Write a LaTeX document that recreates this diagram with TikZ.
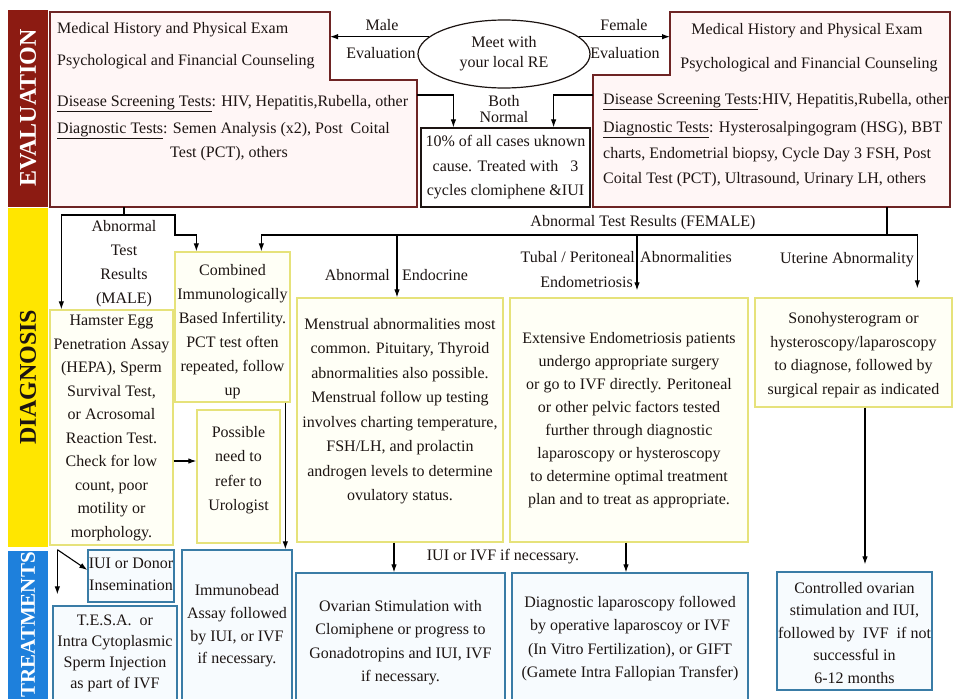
\documentclass[tikz,border=0pt]{standalone}
\usepackage{fontspec}
\setmainfont{Liberation Serif}
\usetikzlibrary{arrows.meta,shapes.geometric}

\definecolor{evalred}{HTML}{8C1B12}
\definecolor{diagyellow}{HTML}{FFE600}
\definecolor{treatblue}{HTML}{1E80DC}
\definecolor{evalline}{HTML}{6E2424}
\definecolor{evalfill}{HTML}{FFF6F6}
\definecolor{diagline}{HTML}{E6E27A}
\definecolor{diagfill}{HTML}{FFFFF6}
\definecolor{treatline}{HTML}{3A7CA6}
\definecolor{treatfill}{HTML}{F7FBFE}
\definecolor{ink}{HTML}{1C1412}

\tikzset{
  lsp/.style={font=\fontsize{16}{#1}\selectfont},
  body/.style={lsp=24, text=ink, align=center, inner sep=0pt},
  evalshape/.style={draw=evalline, fill=evalfill, line width=1.2pt},
  dbox/.style={draw=diagline, fill=diagfill, line width=1.3pt, inner sep=0pt},
  tbox/.style={draw=treatline, fill=treatfill, line width=1.3pt, inner sep=0pt},
  arr/.style={-{Latex[length=8pt,width=5.5pt]}, line width=1.1pt, draw=black},
  wire/.style={line width=1.1pt, draw=black},
  bandlabel/.style={rotate=90, font=\fontsize{24}{24}\selectfont\bfseries, inner sep=0pt}
}

\begin{document}
\begin{tikzpicture}[x=1pt,y=-1pt]
\useasboundingbox (0,0) rectangle (954,699);
\fill[white] (0,0) rectangle (954,699);

% ---------- side bands ----------
\fill[evalred] (8,10) rectangle (48,207);
\fill[diagyellow] (8,208) rectangle (48,547);
\fill[treatblue] (8,551) rectangle (48,699);
\node[bandlabel, text=white] (labEval) at (28,108) {EVALUATION};
\node[bandlabel, text=ink] (labDiag) at (28,377) {DIAGNOSIS};
\node[bandlabel, font=\fontsize{21}{21}\selectfont\bfseries, text=white] (labTreat) at (28,625) {TREATMENTS};

% ---------- evaluation ----------
\draw[evalshape] (50,12) -- (330,12) -- (330,80) -- (417,80) -- (417,207) -- (50,207) -- cycle;
\draw[evalshape] (670,12) -- (950,12) -- (950,207) -- (593,207) -- (593,75) -- (670,75) -- cycle;
\coordinate (mevalE) at (330,37);
\coordinate (mevalE2) at (417,95);
\coordinate (mevalS) at (124,207);
\coordinate (fevalW) at (670,37);
\coordinate (fevalW2) at (593,95);
\coordinate (fevalS) at (887,207);

\node[body, anchor=base west] (m1) at (57,33) {Medical History and Physical Exam};
\node[body, anchor=base west] (m2) at (57,65) {Psychological and Financial Counseling};
\node[body, anchor=base west] (m3) at (57,106) {\underline{Disease Screening Tests}: HIV, Hepatitis,Rubella, other};
\node[body, anchor=base west] (m4) at (57,133) {\underline{Diagnostic Tests}: Semen Analysis (x2), Post\ \ Coital};
\node[body, anchor=base] (m5) at (229,157) {Test (PCT), others};

\node[body, anchor=base] (f1) at (807,34) {Medical History and Physical Exam};
\node[body, anchor=base] (f2) at (809,68) {Psychological and Financial Counseling};
\node[body, anchor=base west] (f3) at (603,104) {\underline{Disease Screening Tests}:HIV, Hepatitis,Rubella, other};
\node[body, anchor=base west] (f4) at (603,132) {\underline{Diagnostic Tests}: Hysterosalpingogram (HSG), BBT};
\node[body, anchor=base west] (f5) at (603,158) {charts, Endometrial biopsy, Cycle Day 3 FSH, Post};
\node[body, anchor=base west] (f6) at (603,183) {Coital Test (PCT), Ultrasound, Urinary LH, others};

\node[ellipse, draw=ink, fill=white, line width=1.2pt, minimum width=172pt, minimum height=68pt,
      body, lsp=20] (re) at (504,54) {Meet with\\your local RE};

\node[body] (maleA) at (382,25) {Male};
\node[body] (maleB) at (381,53) {Evaluation};
\node[body] (femA) at (624,25) {Female};
\node[body] (femB) at (625,53) {Evaluation};
\draw[arr] (re.167) -- (re.167 -| mevalE);
\draw[arr] (re.13) -- (re.13 -| fevalW);

\node[draw=ink, fill=white, line width=1.2pt, minimum width=169pt, minimum height=79pt,
      body, lsp=24.5] (normal) at (505.5,167.5)
      {10\% of all cases uknown\\ cause. Treated with\ \ \ 3\\cycles clomiphene \&IUI};
\node[body, lsp=16] (bothlab) at (504,109) {Both\\Normal};
\draw[arr] (mevalE2) -| ([xshift=33pt]normal.north west);
\draw[arr] (fevalW2) -| ([xshift=-37pt]normal.north east);

% ---------- diagnosis ----------
\node[dbox, minimum width=123pt, minimum height=235pt] (hamster) at (111.5,427.5) {};
\node[body, lsp=23.5] (hamsterT) at (111.5,428) {Hamster Egg\\Penetration Assay\\(HEPA), Sperm\\Survival Test,\\or Acrosomal\\Reaction Test.\\Check for low\\count, poor\\motility or\\morphology.};

\node[dbox, minimum width=115pt, minimum height=150pt] (combined) at (232.5,327) {};
\node[body, lsp=24] (combinedT) at (232.5,332) {Combined\\Immunologically\\Based Infertility.\\PCT test often\\repeated, follow\\up};

\node[dbox, minimum width=83pt, minimum height=133pt] (possible) at (238.5,476.5) {};
\node[body, lsp=24.5] (possibleT) at (238.5,470) {Possible\\need to\\refer to\\Urologist};

\node[dbox, minimum width=206pt, minimum height=244pt] (endo) at (400,420) {};
\node[body, lsp=24.5] (endoT) at (400,411) {Menstrual abnormalities most\\common. Pituitary, Thyroid\\abnormalities also possible.\\Menstrual follow up testing\\involves charting temperature,\\FSH/LH, and prolactin\\androgen levels to determine\\ovulatory status.};

\node[dbox, minimum width=238pt, minimum height=244pt] (endom) at (629,420) {};
\node[body, lsp=23] (endomT) at (629,420) {Extensive Endometriosis patients\\undergo appropriate surgery\\or go to IVF directly. Peritoneal\\or other pelvic factors tested\\further through diagnostic\\laparoscopy or hysteroscopy\\to determine optimal treatment\\plan and to treat as appropriate.};

\node[dbox, minimum width=197pt, minimum height=109pt] (uterine) at (853.5,352.5) {};
\node[body, lsp=23.5] (uterineT) at (853.5,355) {Sonohysterogram or\\hysteroscopy/laparoscopy\\to diagnose, followed by\\surgical repair as indicated};

\node[body] (abnMale) at (124,264) {Abnormal\\Test\\Results\\(MALE)};
\node[body] (abnFem) at (643,223) {Abnormal Test Results (FEMALE)};
\node[body, anchor=east] (abnEndoA) at (390,275) {Abnormal};
\node[body, anchor=west] (abnEndoB) at (402,275) {Endocrine};
\node[body, anchor=east] (tubalA) at (635,257) {Tubal / Peritoneal};
\node[body, anchor=west] (tubalB) at (640,257) {Abnormalities};
\node[body, anchor=east] (tubalC) at (633,282) {Endometriosis};
\node[body, anchor=east] (uterLab) at (914,260) {Uterine Abnormality};

% male results
\coordinate (mSplit) at (124,215);
\draw[wire] (mevalS) -- (mSplit);
\draw[arr] (mSplit) -| ([xshift=12pt]hamster.north west);
\draw[arr] (mSplit) -| (175,235) -| ([xshift=22pt]combined.north west);

% female results
\coordinate (fBus) at (887,235);
\draw[wire] (fevalS) -- (fBus);
\draw[arr] (fBus) -| ([xshift=87pt]combined.north west);
\draw[arr] (fBus) -| ([xshift=163pt,yshift=9pt]uterine.north west);
\draw[arr] ([xshift=-3pt]endo.north |- fBus) -- ([xshift=-3pt]endo.north);
\draw[arr] ([xshift=8pt]endom.north |- fBus) -- ([xshift=8pt,yshift=7pt]endom.north);

% ---------- treatments ----------
\node[tbox, minimum width=86pt, minimum height=52pt] (iui) at (131,576) {};
\node[body, lsp=22] (iuiT) at (131,574) {IUI or Donor\\Insemination};

\node[tbox, minimum width=124pt, minimum height=100pt] (tesa) at (115,656) {};
\node[body, lsp=21] (tesaT) at (115,653.5) {T.E.S.A.\ \ or\\Intra Cytoplasmic\\Sperm Injection\\as part of IVF};

\node[tbox, minimum width=110pt, minimum height=155pt] (immuno) at (237,627.5) {};
\node[body, lsp=22.7] (immunoT) at (237,626) {Immunobead\\Assay followed\\by IUI, or IVF\\if necessary.};

\node[tbox, minimum width=209pt, minimum height=132pt] (ovarian) at (400.5,639) {};
\node[body, lsp=23.5] (ovarianT) at (400.5,642.5) {Ovarian Stimulation with\\Clomiphene or progress to\\Gonadotropins and IUI, IVF\\if necessary.};

\node[tbox, minimum width=236pt, minimum height=132pt] (diaglap) at (630,639) {};
\node[body, lsp=23.5] (diaglapT) at (630,638.5) {Diagnostic laparoscopy followed\\by operative laparoscoy or IVF\\(In Vitro Fertilization), or GIFT\\(Gamete Intra Fallopian Transfer)};

\node[tbox, minimum width=155pt, minimum height=118pt] (controlled) at (854.5,631) {};
\node[body, lsp=22.5] (controlledT) at (854.5,633) {Controlled ovarian\\stimulation and IUI,\\followed by\ \ IVF\ \ if not\\successful in\\6-12 months};

\node[body] (iuiivf) at (503,557) {IUI or IVF if necessary.};

\draw[arr] ([yshift=-33.5pt]hamster.east) coordinate (hp) -- (hp -| possible.west);
\coordinate (hs) at ([xshift=8pt,yshift=-4pt]hamster.south west);
\draw[arr, shorten >=11pt] (hs) -- (hs |- tesa.north);
\draw[arr] (hs) -- ([yshift=6pt]iui.west);
\draw[arr] ([xshift=111pt]combined.south west) -- ([xshift=104pt]immuno.north west);
\draw[arr] ([xshift=-6pt]endo.south) -- ([xshift=-6pt]endo.south |- ovarian.north);
\draw[arr] ([xshift=-3pt]endom.south) -- ([xshift=-3pt]endom.south |- diaglap.north);
\draw[arr, shorten >=7pt] ([xshift=11.5pt]uterine.south) -- ([xshift=11.5pt]uterine.south |- controlled.north);
\end{tikzpicture}
\end{document}
